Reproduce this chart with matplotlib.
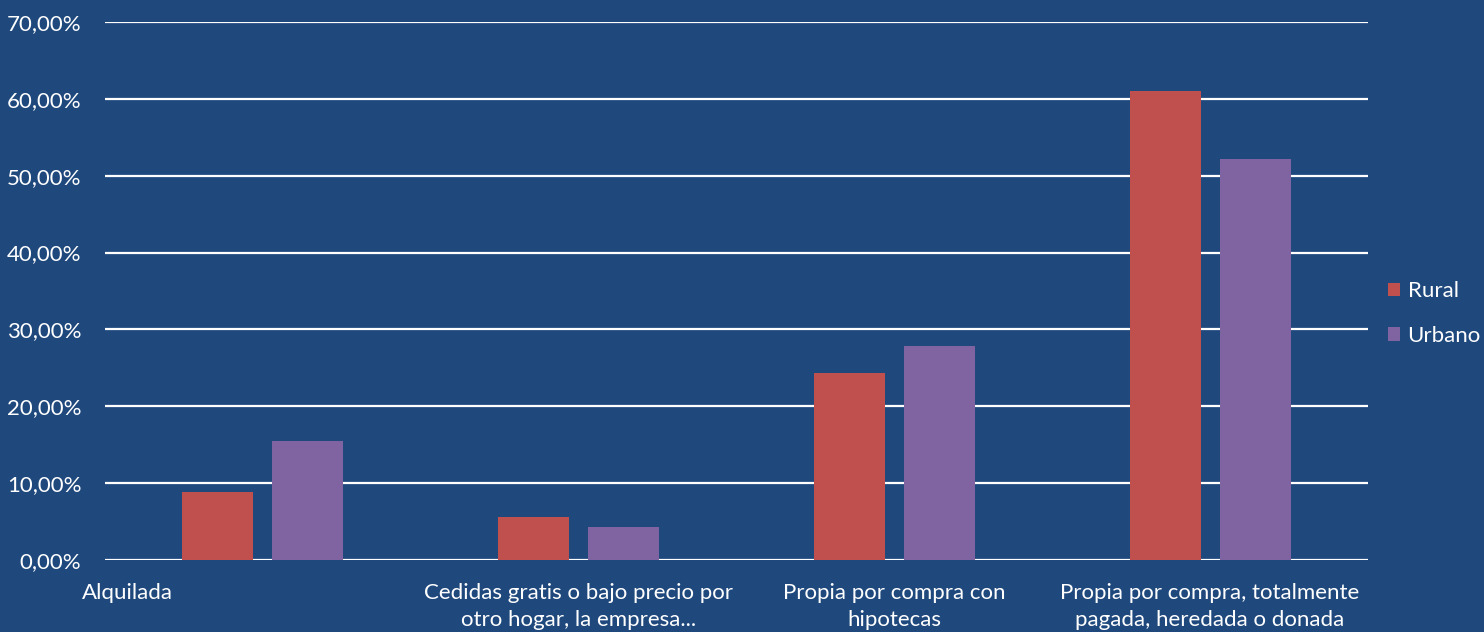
import matplotlib.pyplot as plt
import numpy as np
from matplotlib.ticker import FuncFormatter

categories = ['Alquilada',
              'Cedidas gratis o bajo precio por\notro hogar, la empresa...',
              'Propia por compra con\nhipotecas',
              'Propia por compra, totalmente\npagada, heredada o donada']
rural = [8.85, 5.6, 24.3, 61.0]
urbano = [15.5, 4.3, 27.8, 52.2]
series_names = ['Rural', 'Urbano']
# Excel left the first label shifted to the left
label_shift = [-0.43, 0, 0, 0]

bg = '#1F497D'
colors = ['#C0504D', '#8064A2']

plt.rcParams['font.family'] = ['Lato', 'DejaVu Sans']
fs = 16

fig = plt.figure(figsize=(14.84, 6.32), dpi=100, facecolor=bg)
ax = fig.add_axes([0.0708, 0.1139, 0.8510, 0.8513])
ax.set_facecolor(bg)

x = np.arange(len(categories))
w = 0.225
ax.bar(x - 0.1425, rural, w, color=colors[0], label=series_names[0], zorder=3)
ax.bar(x + 0.1425, urbano, w, color=colors[1], label=series_names[1], zorder=3)

ax.set_xlim(-0.5, len(categories) - 0.5)
ax.set_ylim(0, 70)
ax.set_yticks(np.arange(0, 71, 10))
ax.yaxis.set_major_formatter(FuncFormatter(lambda v, p: f'{v:.2f}'.replace('.', ',') + '%'))
ax.tick_params(axis='y', length=0, pad=17, labelsize=fs, labelcolor='white')
ax.set_xticks([])
ax.grid(axis='y', color='white', linewidth=1.6, zorder=1)
for s in ax.spines.values():
    s.set_visible(False)

for i, lab in enumerate(categories):
    ax.annotate(lab, xy=(i + label_shift[i], 0), xycoords=('data', 'axes fraction'),
                xytext=(0, -16.5), textcoords='offset points', ha='center', va='top',
                color='white', fontsize=fs, linespacing=1.45)

leg = fig.legend(loc='center left', bbox_to_anchor=(0.935, 0.504), frameon=False,
                 fontsize=fs, handlelength=0.55, handleheight=0.55, handletextpad=0.35,
                 labelspacing=1.1, labelcolor='white', borderaxespad=0, borderpad=0)

fig.savefig('out.png', dpi=100, facecolor=bg)
